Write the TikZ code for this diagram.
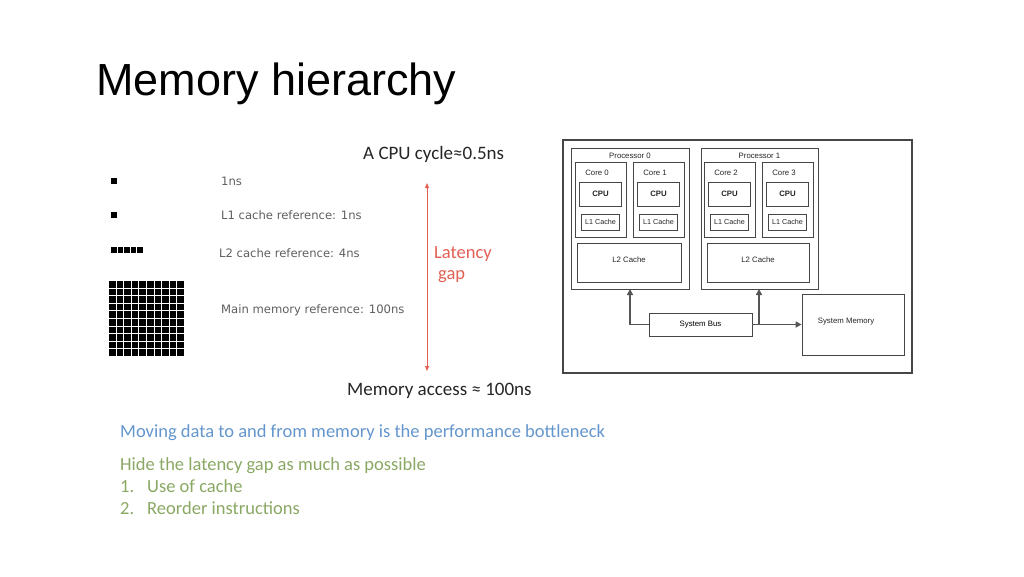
\documentclass[tikz,border=0pt]{standalone}
\usepackage{fontspec}
\setmainfont{Liberation Sans}
\newfontfamily\calib{Carlito}
\newfontfamily\verd{DejaVu Sans}
\usetikzlibrary{arrows.meta}
\definecolor{gtext}{RGB}{95,95,95}
\definecolor{latred}{RGB}{226,96,84}
\definecolor{blutext}{RGB}{100,150,205}
\definecolor{grntext}{RGB}{138,168,100}
\definecolor{boxln}{RGB}{70,70,70}
\definecolor{arrln}{RGB}{85,85,85}
\tikzset{
  lefttxt/.style={anchor=base west, inner sep=0pt, text=gtext, font=\verd\fontsize{11.6}{13}\selectfont},
  caltxt/.style={anchor=base west, inner sep=0pt, font=\calib\fontsize{18.5}{21}\selectfont},
  bigcal/.style={anchor=base west, inner sep=0pt, font=\calib\fontsize{19}{22}\selectfont},
  blk/.style={fill=black, draw=none},
  hwbox/.style={draw=boxln, line width=0.8pt, fill=white},
  hwlbl/.style={inner sep=0pt, font=\fontsize{7.8}{9}\selectfont, text=black!85},
  busarr/.style={draw=arrln, line width=1.6pt, -{Triangle[length=6pt,width=6pt]}},
}
\begin{document}
\begin{tikzpicture}[x=1pt,y=-1pt]
\useasboundingbox (0,0) rectangle (1024,576);
\fill[white] (0,0) rectangle (1024,576);
% title
\node[anchor=base west, inner sep=0pt, font=\fontsize{45}{50}\selectfont] (title) at (96,95) {Memory hierarchy};
% squares
\fill[blk] (111,178) rectangle (117,184);
\fill[blk] (111,212) rectangle (117,218);
\foreach \i in {0,...,4} {\fill[blk] ({111+\i*6.6},247) rectangle ({111+\i*6.6+5.6},253);}
\foreach \i in {0,...,9} {\foreach \j in {0,...,9} {
  \fill[blk] ({109+\i*7.6},{281+\j*7.6}) rectangle ({109+\i*7.6+6.5},{281+\j*7.6+6.5});}}
% left texts
\node[lefttxt] (t1) at (221,185) {1ns};
\node[lefttxt] (t2) at (221,219) {L1 cache reference: 1ns};
\node[lefttxt] (t3) at (219,257) {L2 cache reference: 4ns};
\node[lefttxt] (t4) at (221,313) {Main memory reference: 100ns};
% latency
\node[bigcal, text=black!85] (cyc) at (363,159) {A CPU cycle≈0.5ns};
\node[bigcal, text=black!85] (mem) at (347,395) {Memory access ≈ 100ns};
\coordinate (atop) at (427,183);
\coordinate (abot) at (427,371);
\draw[latred, line width=0.9pt, {Triangle[length=5pt,width=4pt]}-{Triangle[length=5pt,width=4pt]}] (atop) -- (abot);
\node[caltxt, text=latred] (lat1) at (434,258) {Latency};
\node[caltxt, text=latred] (lat2) at (438,279) {gap};
% bottom texts
\node[caltxt, text=blutext] (mv) at (120,437) {Moving data to and from memory is the performance bottleneck};
\node[caltxt, text=grntext] (hd) at (120,470) {Hide the latency gap as much as possible};
\node[caltxt, text=grntext] (n1) at (120,492) {1.};
\node[caltxt, text=grntext] (i1) at (147,492) {Use of cache};
\node[caltxt, text=grntext] (n2) at (120,514) {2.};
\node[caltxt, text=grntext] (i2) at (147,514) {Reorder instructions};
% hardware diagram
\draw[boxln, line width=1.1pt] (563,140) rectangle (912,373);
\draw[hwbox] (571,148) rectangle (689,289);
\draw[hwbox] (701,148) rectangle (818,289);
\node[hwlbl] (p0) at (630,156) {Processor 0};
\node[hwlbl] (p1) at (759.5,156) {Processor 1};
\foreach \x/\n in {575/0,633/1,704/2,762/3} {
  \draw[hwbox] (\x,162) rectangle ({\x+51},237);
  \node[hwlbl] at ({\x+22},173) {Core \n};
  \draw[hwbox] ({\x+4},182) rectangle ({\x+46},206);
  \node[hwlbl, font=\bfseries\fontsize{7.8}{9}\selectfont] at ({\x+25.5},194) {CPU};
  \draw[hwbox] ({\x+6},214) rectangle ({\x+44},230);
  \node[hwlbl, font=\fontsize{7.2}{8}\selectfont] at ({\x+25.5},222) {L1 Cache};
}
\draw[hwbox] (577,243) rectangle (681,282);
\node[hwlbl] (l2a) at (629,260) {L2 Cache};
\draw[hwbox] (707,243) rectangle (809,282);
\node[hwlbl] (l2b) at (758,260) {L2 Cache};
\node[hwbox, minimum width=103pt, minimum height=23pt, inner sep=0pt, font=\fontsize{7.8}{9}\selectfont] (bus) at (700.5,324.5) {System Bus};
\node[hwbox, minimum width=102pt, minimum height=61pt, inner sep=0pt] (smem) at (853,324.5) {};
\node[hwlbl] (smlbl) at (846,322) {System Memory};
\coordinate (p0b) at (630,289);
\coordinate (p1b) at (759,289);
\coordinate (jn) at (759,324.5);
\draw[busarr] (bus.west) -| (p0b);
\draw[busarr] (jn) -- (p1b);
\draw[busarr] (bus.east) -- (smem.west);
\end{tikzpicture}
\end{document}
